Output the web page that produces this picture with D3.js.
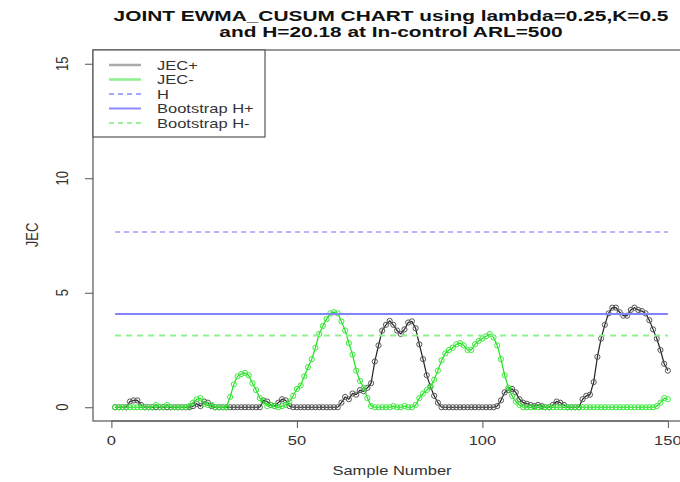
<!DOCTYPE html>
<html>
<head>
<meta charset="utf-8">
<script src="https://cdn.jsdelivr.net/npm/d3@7"></script>
<style>
  body { margin: 0; background: #fff; }
  svg { display: block; font-family: "Liberation Sans", Arial, sans-serif; }
</style>
</head>
<body>
<svg id="chart" width="680" height="482"></svg>
<script>
// values (samples 1..150)
var samples = d3.range(1, 151);
var jecPlus = [
  0, 0, 0, 0, 0.25, 0.3, 0.3, 0.1, 0, 0,
  0, 0, 0, 0, 0, 0, 0, 0, 0, 0,
  0, 0.05, 0.15, 0.05, 0.25, 0.2, 0.05, 0, 0, 0,
  0, 0, 0, 0, 0, 0, 0, 0, 0, 0,
  0.3, 0.25, 0.1, 0.05, 0.2, 0.35, 0.3, 0.05, 0, 0,
  0, 0, 0, 0, 0, 0, 0, 0, 0, 0,
  0, 0.2, 0.45, 0.35, 0.6, 0.55, 0.75, 0.7, 0.85, 1.05,
  2.0, 2.7, 3.35, 3.6, 3.77, 3.6, 3.35, 3.2, 3.4, 3.7,
  3.75, 3.45, 2.75, 2.1, 1.4, 0.9, 0.5, 0.2, 0, 0,
  0, 0, 0, 0, 0, 0, 0, 0, 0, 0,
  0, 0, 0, 0.05, 0.3, 0.65, 0.75, 0.8, 0.65, 0.35,
  0.2, 0.15, 0.1, 0.05, 0.1, 0.05, 0, 0, 0.1, 0.25,
  0.2, 0.1, 0, 0, 0, 0, 0.35, 0.5, 0.55, 1.1,
  2.2, 3.0, 3.6, 4.1, 4.35, 4.35, 4.15, 4.0, 4.0, 4.25,
  4.35, 4.25, 4.2, 4.1, 3.8, 3.4, 3.0, 2.5, 1.9, 1.6
];
var jecMinus = [
  0, 0, 0, 0, 0, 0, 0, 0, 0, 0,
  0, 0.1, 0, 0, 0.1, 0, 0, 0, 0, 0,
  0.05, 0.2, 0.35, 0.4, 0.15, 0.1, 0.1, 0, 0, 0,
  0, 0.45, 1.0, 1.35, 1.45, 1.5, 1.4, 1.05, 0.75, 0.4,
  0.25, 0.05, 0.1, 0.05, 0, 0.05, 0.1, 0.25, 0.5, 0.8,
  0.95, 1.35, 1.75, 2.1, 2.6, 3.2, 3.55, 3.85, 4.1, 4.15,
  4.1, 3.75, 3.35, 2.8, 2.3, 1.6, 1.15, 0.85, 0.4, 0.05,
  0, 0, 0, 0, 0, 0.05, 0, 0, 0.05, 0,
  0, 0.1, 0.4, 0.6, 0.75, 0.9, 1.2, 1.6, 2.05, 2.35,
  2.5, 2.6, 2.75, 2.8, 2.7, 2.5, 2.5, 2.75, 2.9, 3.0,
  3.1, 3.2, 3.05, 2.7, 2.1, 1.4, 0.85, 0.5, 0.25, 0.1,
  0, 0, 0, 0, 0, 0, 0, 0, 0, 0,
  0, 0, 0, 0, 0, 0, 0, 0, 0, 0,
  0, 0, 0, 0, 0, 0, 0, 0, 0, 0,
  0, 0, 0, 0, 0, 0, 0.05, 0.2, 0.4, 0.35
];
var hLimit = 7.65;
var bootHPlus = 4.07;
var bootHMinus = 3.13;
var xTicks = [0, 50, 100, 150];
var yTicks = [0, 5, 10, 15];
var legendLabels = ["JEC+", "JEC-", "H", "Bootstrap H+", "Bootstrap H-"];

var SX = 1.27; // the reference is stretched sideways

var svg = d3.select("#chart");
var pLeft = 93, pRight = 690, pTop = 50, pBottom = 421;

var x = d3.scaleLinear().domain([-4.96, 155.96]).range([pLeft, pRight]);
var y = d3.scaleLinear().domain([-0.6, 15.6]).range([pBottom, pTop]);

function stext(g, px, py, str, size, opts) {
  opts = opts || {};
  var sx = opts.sx || SX;
  return g.append("text")
    .attr("transform", "translate(" + px + "," + py + ") scale(" + sx + ",1)" + (opts.rotate ? " rotate(-90)" : ""))
    .attr("text-anchor", opts.anchor || "middle")
    .attr("font-size", size)
    .attr("font-weight", opts.bold ? "bold" : "normal")
    .attr("fill", opts.fill || "#222")
    .text(str);
}

// title
stext(svg, 391, 21, "JOINT EWMA_CUSUM CHART using lambda=0.25,K=0.5", 15, {bold: true, fill: "#111", sx: 1.39});
stext(svg, 391, 37, "and H=20.18 at In-control ARL=500", 15, {bold: true, fill: "#111", sx: 1.39});

// axes
var xAxis = svg.append("g")
  .attr("transform", "translate(0," + pBottom + ")")
  .call(d3.axisBottom(x).tickValues(xTicks).tickSize(7).tickFormat(""));
xAxis.select(".domain").attr("d", "M" + x(0) + ",0H" + x(150)).attr("stroke", "#555");
xAxis.selectAll(".tick line").attr("stroke", "#555");
xTicks.forEach(function(v) { stext(svg, x(v), 445, v, 13, {fill: "#333"}); });

var yAxis = svg.append("g")
  .attr("transform", "translate(" + pLeft + ",0)")
  .call(d3.axisLeft(y).tickValues(yTicks).tickSize(8).tickFormat(""));
yAxis.select(".domain").remove();
yAxis.selectAll(".tick line").attr("stroke", "#555");
yTicks.forEach(function(v) { stext(svg, 68, y(v), v, 13, {rotate: true, fill: "#333"}); });

stext(svg, 392, 475, "Sample Number", 13, {fill: "#333"});
stext(svg, 38, 235, "JEC", 13, {rotate: true, fill: "#333"});

// plot box
svg.append("rect")
  .attr("x", pLeft).attr("y", pTop)
  .attr("width", pRight - pLeft).attr("height", pBottom - pTop)
  .attr("fill", "none").attr("stroke", "#555").attr("stroke-width", 1.2);

var line = d3.line().x(function(d) { return x(d[0]); }).y(function(d) { return y(d[1]); });

function series(vals, lineCol, ptCol) {
  var pts = samples.map(function(s, i) { return [s, vals[i]]; });
  svg.append("path").datum(pts)
    .attr("d", line).attr("fill", "none")
    .attr("stroke", lineCol).attr("stroke-width", 1.2);
  svg.append("g").selectAll("circle").data(pts).enter().append("circle")
    .attr("cx", function(d) { return x(d[0]); })
    .attr("cy", function(d) { return y(d[1]); })
    .attr("r", 2.6)
    .attr("fill", "none")
    .attr("stroke", ptCol)
    .attr("stroke-width", 1);
}
series(jecPlus, "#222", "#555");
series(jecMinus, "#1ee01e", "#3ce83c");

// limit lines
function hline(v, col, w, dash) {
  svg.append("line")
    .attr("x1", x(1)).attr("x2", x(150))
    .attr("y1", y(v)).attr("y2", y(v))
    .attr("stroke", col).attr("stroke-width", w)
    .attr("stroke-dasharray", dash || null);
}
hline(hLimit, "#6a6aff", 1.1, "5,4");
hline(bootHPlus, "#8282ff", 2, null);
hline(bootHMinus, "#8ef08e", 2, "6,5");

// legend
var lg = svg.append("g");
lg.append("rect").attr("x", pLeft).attr("y", pTop)
  .attr("width", 172).attr("height", 87)
  .attr("fill", "#fff").attr("stroke", "#555").attr("stroke-width", 1.2);
var legendStyle = [
  {col: "#aaa", w: 2.5, dash: null},
  {col: "#8ef08e", w: 2.5, dash: null},
  {col: "#8a8aff", w: 1.5, dash: "5,4"},
  {col: "#8a8aff", w: 2, dash: null},
  {col: "#9cf09c", w: 2, dash: "5,4"}
];
legendLabels.forEach(function(lab, i) {
  var ly = 65 + i * 14.5;
  lg.append("line").attr("x1", 109).attr("x2", 141).attr("y1", ly).attr("y2", ly)
    .attr("stroke", legendStyle[i].col).attr("stroke-width", legendStyle[i].w)
    .attr("stroke-dasharray", legendStyle[i].dash);
  stext(lg, 157, ly + 4.5, lab, 13, {anchor: "start", fill: "#333"});
});
</script>
</body>
</html>
